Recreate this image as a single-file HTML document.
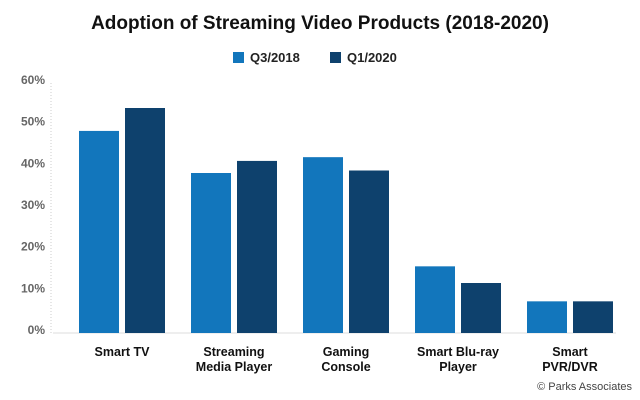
<!DOCTYPE html>
<html><head><meta charset="utf-8"><style>
body{margin:0;background:#fff;}
svg{display:block;font-family:"Liberation Sans",sans-serif;}
</style></head><body>
<svg id="c" width="640" height="400">
<text x="320" y="29" text-anchor="middle" font-size="19" font-weight="bold" fill="#111">Adoption of Streaming Video Products (2018-2020)</text>
<g>
<rect x="233" y="52" width="11" height="11" fill="#1276bc"/>
<text x="250" y="62" font-size="13" font-weight="bold" fill="#222">Q3/2018</text>
<rect x="330" y="52" width="11" height="11" fill="#0e416d"/>
<text x="347" y="62" font-size="13" font-weight="bold" fill="#222">Q1/2020</text>
</g>
<line x1="51" y1="83" x2="51" y2="333" stroke="#ccc" stroke-dasharray="1,2"/>
<line x1="53" y1="333" x2="616" y2="333" stroke="#ddd"/>
<g id="yt"></g><g id="bars"></g><g id="xl"></g>
<text x="632" y="390" text-anchor="end" font-size="11" fill="#444">© Parks Associates</text>
</svg>
<script>
const categories=[["Smart TV"],["Streaming","Media Player"],["Gaming","Console"],["Smart Blu-ray","Player"],["Smart","PVR/DVR"]];
const q3_2018=[48.5,38.4,42.2,16,7.6];
const q1_2020=[54,41.3,39,12,7.6];
const yTicks=[0,10,20,30,40,50,60];
const ns="http://www.w3.org/2000/svg";
function y(v){return 333-v*250/60;}
function x(i){return 79+i*112;}
function mk(t,a,p){const e=document.createElementNS(ns,t);for(const k in a)e.setAttribute(k,a[k]);p.appendChild(e);return e;}
const yt=document.getElementById('yt'),bars=document.getElementById('bars'),xl=document.getElementById('xl');
yTicks.forEach(v=>{const t=mk('text',{x:45,y:y(v)+1,'text-anchor':'end','font-size':12,'font-weight':'bold',fill:'#666'},yt);t.textContent=v+'%';

});
categories.forEach((c,i)=>{
 const a=mk('rect',{x:x(i),y:y(q3_2018[i]),width:40,height:333-y(q3_2018[i]),fill:'#1276bc'},bars);
 
 
 const b=mk('rect',{x:x(i)+46,y:y(q1_2020[i]),width:40,height:333-y(q1_2020[i]),fill:'#0e416d'},bars);
 
 
 c.forEach((ln,j)=>{const t=mk('text',{x:x(i)+43,y:356+j*15,'text-anchor':'middle','font-size':12.5,'font-weight':'bold',fill:'#111'},xl);t.textContent=ln;
 
 });
});
</script>
</body></html>
